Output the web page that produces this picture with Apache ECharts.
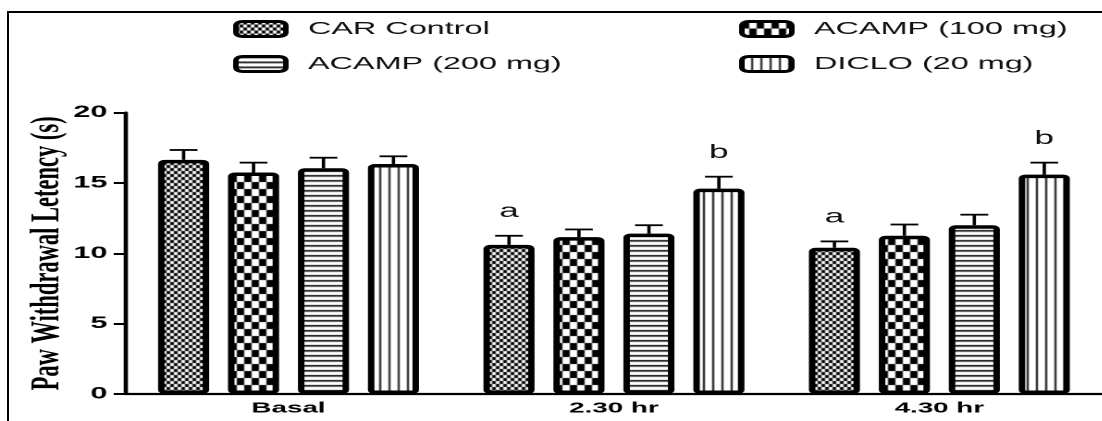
<!DOCTYPE html>
<html>
<head>
<meta charset="utf-8">
<script src="https://cdn.jsdelivr.net/npm/echarts@6/dist/echarts.min.js"></script>
<style>
  html, body { margin: 0; padding: 0; background: #fff; overflow: hidden; }
  /* the reference is stretched sideways, so draw narrow and stretch */
  #chart { width: 604px; height: 421px; transform: scaleX(1.85); transform-origin: 0 0; }
  #frame { position: absolute; left: 7px; top: 11px; width: 1200px; height: 500px;
           border-left: 2px solid #000; border-top: 2px solid #000; pointer-events: none; }
</style>
</head>
<body>
<div id="chart"></div>
<div id="frame"></div>
<script>
const categories = ['Basal', '2.30 hr', '4.30 hr']
const seriesNames = ['CAR Control', 'ACAMP (100 mg)', 'ACAMP (200 mg)', 'DICLO (20 mg)']
const carControl = [16.65, 10.6, 10.4]
const acamp100 = [15.75, 11.15, 11.25]
const acamp200 = [16.05, 11.4, 12.0]
const diclo = [16.35, 14.6, 15.6]
const carControlErr = [0.7, 0.65, 0.45]
const acamp100Err = [0.7, 0.55, 0.8]
const acamp200Err = [0.75, 0.6, 0.75]
const dicloErr = [0.55, 0.85, 0.85]
const carControlSig = ['', 'a', 'a']
const acamp100Sig = ['', '', '']
const acamp200Sig = ['', '', '']
const dicloSig = ['', 'b', 'b']
const yTicks = [0, 5, 10, 15, 20]

const values = [carControl, acamp100, acamp200, diclo]
const errors = [carControlErr, acamp100Err, acamp200Err, dicloErr]
const sigs = [carControlSig, acamp100Sig, acamp200Sig, dicloSig]

const BAR_W = 27.6
const BAR_GAP = 0.37
const SLOT = BAR_W * (1 + BAR_GAP)

// 图案填充
function makePattern(w, h, draw) {
  const c = document.createElement('canvas')
  c.width = w
  c.height = h
  const ctx = c.getContext('2d')
  ctx.fillStyle = '#fff'
  ctx.fillRect(0, 0, w, h)
  ctx.fillStyle = '#000'
  draw(ctx)
  return { image: c, repeat: 'repeat' }
}
const patterns = [
  makePattern(4, 6, ctx => { ctx.fillRect(0, 0, 2, 3); ctx.fillRect(2, 3, 2, 3) }),
  makePattern(8, 14, ctx => { ctx.fillRect(0, 0, 4, 7); ctx.fillRect(4, 7, 4, 7) }),
  makePattern(4, 5, ctx => { ctx.fillRect(0, 0, 4, 1.6) }),
  makePattern(5, 4, ctx => { ctx.fillRect(0, 0, 1, 4) })
]

const errData = []
values.forEach((arr, s) => {
  arr.forEach((v, c) => { errData.push([c, s, v, errors[s][c]]) })
})
const errLabels = []
sigs.forEach(arr => arr.forEach(t => errLabels.push(t)))

const chart = echarts.init(document.getElementById('chart'), null, { renderer: 'canvas', devicePixelRatio: 2 })

const legendPos = [[126, 20], [399.5, 20], [126, 55], [399.5, 55]]
const legends = seriesNames.map((name, i) => ({
  data: [name],
  left: legendPos[i][0],
  top: legendPos[i][1],
  padding: 0,
  itemWidth: 27,
  itemHeight: 15,
  selectedMode: false,
  itemStyle: { borderWidth: 3, borderColor: '#000', borderRadius: 3 },
  textStyle: { fontFamily: 'Liberation Sans, Arial', fontSize: 17.5, color: '#111', padding: [0, 0, 0, 7] }
}))

const option = {
  animation: false,
  backgroundColor: '#fff',
  legend: legends,
  grid: { left: 68, right: 8.3, top: 112.7, bottom: 27 },
  xAxis: {
    type: 'category',
    data: categories,
    axisLine: { lineStyle: { color: '#000', width: 2.3 } },
    axisTick: { alignWithLabel: true, length: 4, lineStyle: { color: '#000', width: 1.4 } },
    axisLabel: { fontFamily: 'Liberation Sans, Arial', fontWeight: 'bold', fontSize: 15, color: '#000', margin: 7 }
  },
  yAxis: {
    type: 'value',
    min: 0,
    max: 20,
    interval: 5,
    name: 'Paw Withdrawal Letency (s)',
    nameLocation: 'middle',
    nameRotate: 90,
    nameGap: 31,
    nameMoveOverlap: false,
    nameTextStyle: { fontFamily: 'Liberation Serif, Times New Roman', fontWeight: 'bold', fontSize: 22.5, color: '#000' },
    axisLine: { show: true, lineStyle: { color: '#000', width: 2.3 } },
    axisTick: { show: true, length: 6.5, lineStyle: { color: '#000', width: 2 } },
    splitLine: { show: false },
    axisLabel: {
      fontFamily: 'Liberation Sans, Arial', fontWeight: 'bold', fontSize: 16.5, color: '#000', margin: 10,
      formatter: v => (yTicks.includes(v) ? String(v) : '')
    }
  },
  series: [
    ...seriesNames.map((name, i) => ({
      name,
      type: 'bar',
      data: values[i],
      barWidth: BAR_W,
      barGap: (BAR_GAP * 100) + '%',
      itemStyle: { color: patterns[i], borderColor: '#000', borderWidth: 3.5, borderRadius: 2 }
    })),
    {
      type: 'custom',
      z: 5,
      data: errData,
      renderItem: (params, api) => {
        const c = api.value(0)
        const s = api.value(1)
        const v = api.value(2)
        const e = api.value(3)
        const x = api.coord([c, 0])[0] + (s - 1.5) * SLOT
        const yBar = api.coord([c, v])[1]
        const yTop = api.coord([c, v + e])[1]
        const lw = 1.8
        const children = [
          { type: 'line', shape: { x1: x, y1: yBar, x2: x, y2: yTop }, style: { stroke: '#000', lineWidth: lw } },
          { type: 'line', shape: { x1: x - 7.5, y1: yTop, x2: x + 7.5, y2: yTop }, style: { stroke: '#000', lineWidth: lw } }
        ]
        const t = errLabels[params.dataIndex]
        if (t) {
          children.push({
            type: 'text',
            style: {
              text: t, x: x, y: yTop - 24, align: 'center', verticalAlign: 'middle',
              font: '19px "Liberation Sans", Arial', fill: '#111'
            }
          })
        }
        return { type: 'group', children }
      }
    }
  ]
}

chart.setOption(option)
</script>
</body>
</html>
